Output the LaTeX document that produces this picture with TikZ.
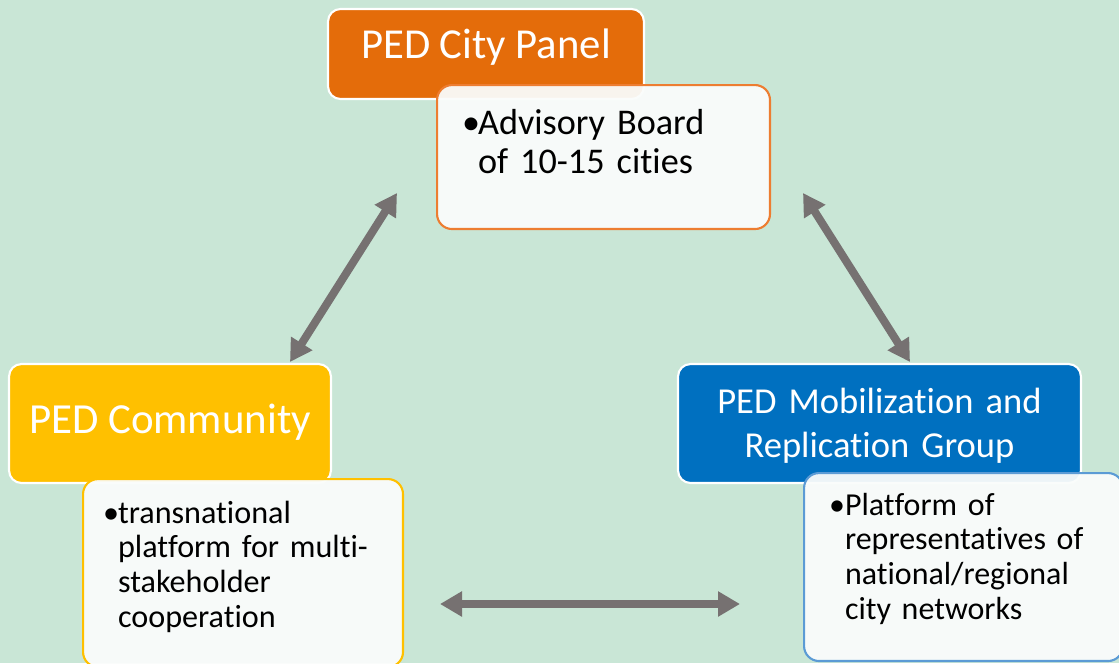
\documentclass[tikz,border=0pt]{standalone}
\usepackage{fontspec}
\setmainfont{Carlito}[Ligatures=NoCommon]
\usepackage{pgf,tikz}
\usetikzlibrary{arrows.meta}

\definecolor{mintbg}{HTML}{C9E6D6}
\definecolor{pedorange}{HTML}{E46C0A}
\definecolor{pedorangeline}{HTML}{ED7D31}
\definecolor{pedyellow}{HTML}{FFC000}
\definecolor{pedblue}{HTML}{0070C0}
\definecolor{pedblueline}{HTML}{5B9BD5}
\definecolor{arrowgray}{HTML}{767171}
\definecolor{notewhite}{HTML}{FAFCFB}

\begin{document}
\begin{tikzpicture}[x=0.02cm,y=-0.02cm,
    headbox/.style={draw=white, line width=1.2pt, rounded corners=0.25cm, text=white, inner sep=0pt},
    notebox/.style={line width=1.2pt, rounded corners=0.3cm, fill=notewhite, fill opacity=0.95,
      text opacity=1, anchor=north west, align=left, inner ysep=0.3cm},
    twoway/.style={draw=arrowgray, line width=0.16cm,
      {Triangle[width=0.48cm,length=0.44cm]}-{Triangle[width=0.48cm,length=0.44cm]}}]

    \fill[mintbg] (0,0) rectangle (1119,663);
    \useasboundingbox (0,0) rectangle (1119,663);

    % headers
    \node[headbox, fill=pedorange, minimum width=6.32cm, minimum height=1.8cm,
      text height=0.6cm, text depth=0.44cm, font=\fontsize{24.3}{28}\selectfont]
      (cityhead) at (486,54) {PED City Panel};
    \node[headbox, fill=pedyellow, minimum width=6.44cm, minimum height=2.38cm,
      text height=0.6cm, text depth=0.22cm, font=\fontsize{24.4}{28}\selectfont]
      (commhead) at (170,423.5) {PED Community};
    \node[headbox, fill=pedblue, minimum width=8.06cm, minimum height=2.38cm,
      text width=7.6cm, align=center, text height=0.5cm, text depth=0.92cm,
      font=\fontsize{20.8}{25.5}\selectfont]
      (mobhead) at (879.5,423.5) {PED Mobilization and\\ Replication Group};

    % notes
    \node[notebox, draw=pedorangeline, inner xsep=0.5cm, text width=5.66cm,
      text height=0.68cm, text depth=1.6cm, font=\fontsize{20.6}{22.7}\selectfont]
      (citynote) at (436,84)
      {\begin{tabular}[t]{@{}l@{}l@{}}\makebox[0.32cm][l]{\textbullet}&Advisory Board\\
        &of 10-15 cities\end{tabular}};
    \node[notebox, draw=pedyellow, inner xsep=0.4cm, text width=5.6cm,
      text height=0.58cm, text depth=2.58cm, font=\fontsize{18.3}{19.8}\selectfont]
      (commnote) at (82,478)
      {\begin{tabular}[t]{@{}l@{}l@{}}\makebox[0.3cm][l]{\textbullet}&transnational\\
        &platform for multi-\\ &stakeholder\\ &cooperation\end{tabular}};
    \node[notebox, draw=pedblueline, inner xsep=0.5cm, text width=5.38cm,
      text height=0.54cm, text depth=2.62cm, font=\fontsize{18.2}{19.8}\selectfont]
      (mobnote) at (803,472)
      {\begin{tabular}[t]{@{}l@{}l@{}}\makebox[0.32cm][l]{\textbullet}&Platform of\\
        &representatives of\\ &national/regional\\ &city networks\end{tabular}};

    % arrows between the groups
    \coordinate (leftlow) at (290,362);
    \coordinate (lefthigh) at (397,193);
    \coordinate (righthigh) at (803,193);
    \coordinate (rightlow) at (910,362);
    \coordinate (bottomleft) at (440,604);
    \coordinate (bottomright) at (740,604);
    \draw[twoway] (leftlow) -- (lefthigh);
    \draw[twoway] (righthigh) -- (rightlow);
    \draw[twoway] (bottomleft) -- (bottomright);
\end{tikzpicture}
\end{document}
